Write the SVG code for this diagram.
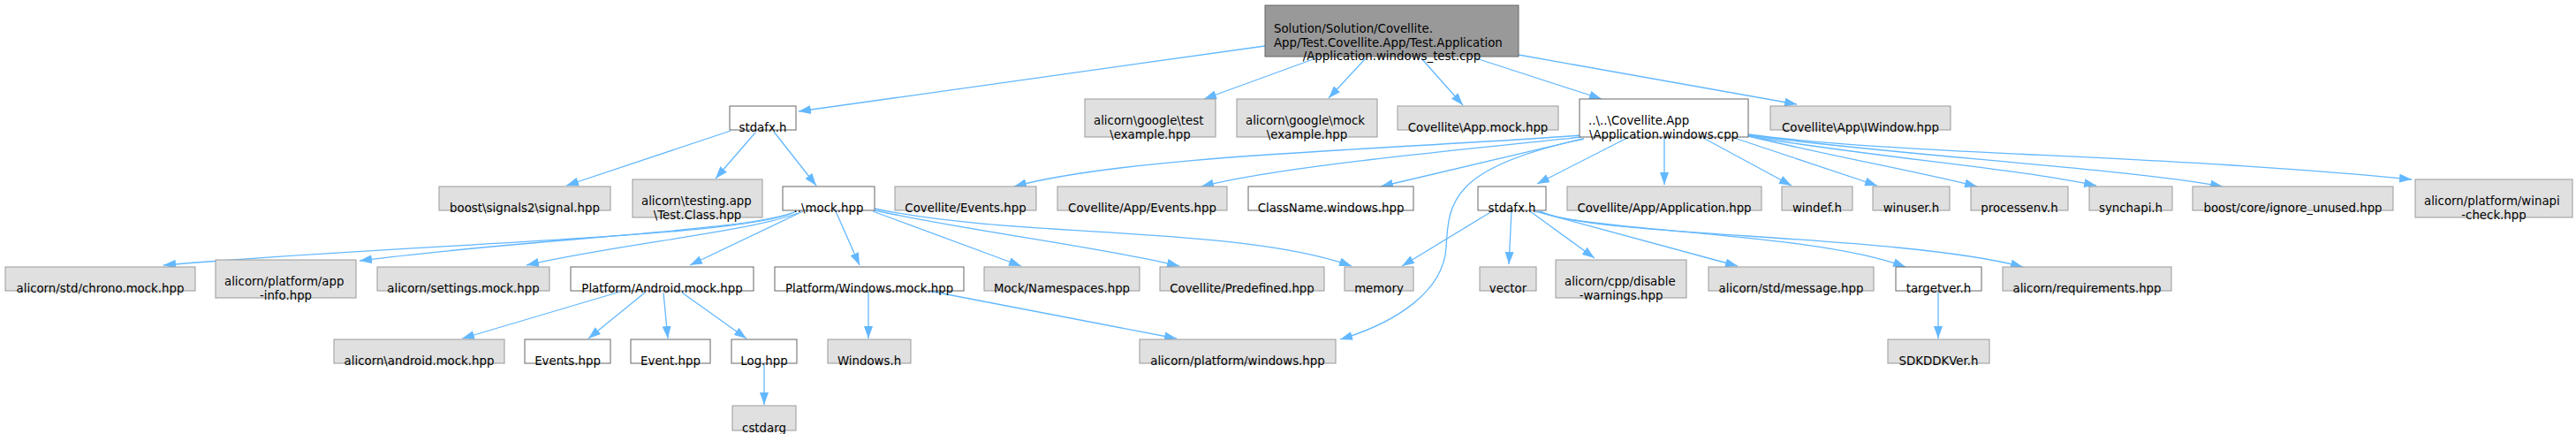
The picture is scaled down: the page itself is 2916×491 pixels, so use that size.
<svg xmlns="http://www.w3.org/2000/svg" width="2916" height="491" viewBox="0 0 2916 491">
<style>
.n rect{stroke-width:1}
.g rect{fill:#e0e0e0;stroke:#999999}
.w rect{fill:#ffffff;stroke:#666666}
.r rect{fill:#999999;stroke:#666666}
text{font-family:"DejaVu Sans","Liberation Sans",sans-serif;font-size:13.33px;fill:#000000}
.m{text-anchor:middle}
.s{text-anchor:start}
#edges path{fill:none;stroke:#63b8ff;stroke-width:1.3;marker-end:url(#ah)}
</style>
<defs>
<marker id="ah" markerUnits="userSpaceOnUse" markerWidth="14" markerHeight="10" viewBox="0 0 14 10" refX="14" refY="5" orient="auto">
<path d="M0,0 L14,5 L0,10 z" fill="#63b8ff" stroke="none"/>
</marker>
</defs>
<rect width="2916" height="491" fill="#ffffff"/>
<g id="edges">
<path d="M1432,52 L904,126"/>
<path d="M1492,65 L1363,112"/>
<path d="M1546,66 L1504,111"/>
<path d="M1609,66 L1656,119"/>
<path d="M1671,66 L1813,112"/>
<path d="M1719,62 L2034,118"/>
<path d="M827,148 L641,210"/>
<path d="M855,150 L810,202"/>
<path d="M876,149 L924,210"/>
<path d="M901,239 C850,268 480,275 185,300"/>
<path d="M899,240 C840,262 620,268 407,295"/>
<path d="M903,241 C850,262 700,276 596,300"/>
<path d="M909,239 L781,300"/>
<path d="M946,239 L973,300"/>
<path d="M988,239 L1156,301"/>
<path d="M990,238 C1100,262 1250,280 1335,301"/>
<path d="M990,236 C1150,270 1400,255 1530,301"/>
<path d="M702,330 L523,383"/>
<path d="M730,331 L666,383"/>
<path d="M751,331 L756,383"/>
<path d="M772,331 L845,383"/>
<path d="M983,330 L983,383"/>
<path d="M1051,329 L1332,383"/>
<path d="M865,412 L865,458"/>
<path d="M1790,153 C1600,168 1280,175 1148,211"/>
<path d="M1790,155 C1650,170 1450,188 1360,211"/>
<path d="M1792,157 L1563,211"/>
<path d="M1842,156 L1740,208"/>
<path d="M1884,156 L1884,209"/>
<path d="M1793,157 C1640,190 1640,230 1637,280 C1634,330 1580,365 1517,384"/>
<path d="M1928,156 L2028,210"/>
<path d="M1963,156 L2125,210"/>
<path d="M1979,154 C2080,178 2180,196 2238,211"/>
<path d="M1979,154 C2120,178 2280,190 2373,210"/>
<path d="M1979,153 C2150,176 2400,190 2516,211"/>
<path d="M1979,152 C2150,175 2450,175 2730,203"/>
<path d="M1689,239 L1587,301"/>
<path d="M1711,239 L1708,299"/>
<path d="M1732,239 L1805,292"/>
<path d="M1738,239 L1967,301"/>
<path d="M1742,239 C1790,262 2050,262 2157,302"/>
<path d="M1744,239 C1800,268 2150,265 2290,302"/>
<path d="M2194,330 L2194,383"/>
</g>
<g id="root" class="n r"><rect x="1432" y="6" width="287" height="58"/><text class="s" x="1442" y="37">Solution/Solution/Covellite.</text><text class="s" x="1442" y="52.5">App/Test.Covellite.App/Test.Application</text><text class="m" x="1575.5" y="68">/Application.windows_test.cpp</text></g>
<g id="stdafxA" class="n w"><rect x="826" y="120" width="75" height="27"/><text class="m" x="863.5" y="149">stdafx.h</text></g>
<g id="googletest" class="n g"><rect x="1228" y="112" width="148" height="43"/><text class="s" x="1238" y="141">alicorn\google\test</text><text class="m" x="1302" y="157">\example.hpp</text></g>
<g id="googlemock" class="n g"><rect x="1400" y="112" width="159" height="43"/><text class="s" x="1410" y="141">alicorn\google\mock</text><text class="m" x="1479.5" y="157">\example.hpp</text></g>
<g id="appmock" class="n g"><rect x="1582" y="120" width="182" height="27"/><text class="m" x="1673" y="149">Covellite\App.mock.hpp</text></g>
<g id="appwin" class="n w"><rect x="1788" y="112" width="191" height="43"/><text class="s" x="1798" y="141">..\..\Covellite.App</text><text class="m" x="1883.5" y="157">\Application.windows.cpp</text></g>
<g id="iwindow" class="n g"><rect x="2004" y="120" width="204" height="27"/><text class="m" x="2106" y="149">Covellite\App\IWindow.hpp</text></g>
<g id="signal" class="n g"><rect x="497" y="211" width="194" height="27"/><text class="m" x="594" y="240">boost\signals2\signal.hpp</text></g>
<g id="testing" class="n g"><rect x="716" y="203" width="147" height="43"/><text class="s" x="726" y="232">alicorn\testing.app</text><text class="m" x="789.5" y="248">\Test.Class.hpp</text></g>
<g id="mock" class="n w"><rect x="886" y="211" width="104" height="27"/><text class="m" x="938" y="240">..\mock.hpp</text></g>
<g id="cevents" class="n g"><rect x="1013" y="211" width="160" height="27"/><text class="m" x="1093" y="240">Covellite/Events.hpp</text></g>
<g id="cappevents" class="n g"><rect x="1197" y="211" width="192" height="27"/><text class="m" x="1293" y="240">Covellite/App/Events.hpp</text></g>
<g id="classname" class="n w"><rect x="1413" y="211" width="187" height="27"/><text class="m" x="1506.5" y="240">ClassName.windows.hpp</text></g>
<g id="stdafxB" class="n w"><rect x="1673" y="211" width="77" height="27"/><text class="m" x="1711.5" y="240">stdafx.h</text></g>
<g id="application" class="n g"><rect x="1774" y="211" width="220" height="27"/><text class="m" x="1884" y="240">Covellite/App/Application.hpp</text></g>
<g id="windef" class="n g"><rect x="2017" y="211" width="80" height="27"/><text class="m" x="2057" y="240">windef.h</text></g>
<g id="winuser" class="n g"><rect x="2120" y="211" width="87" height="27"/><text class="m" x="2163.5" y="240">winuser.h</text></g>
<g id="processenv" class="n g"><rect x="2231" y="211" width="110" height="27"/><text class="m" x="2286" y="240">processenv.h</text></g>
<g id="synchapi" class="n g"><rect x="2365" y="211" width="94" height="27"/><text class="m" x="2412" y="240">synchapi.h</text></g>
<g id="ignoreunused" class="n g"><rect x="2482" y="211" width="227" height="27"/><text class="m" x="2595.5" y="240">boost/core/ignore_unused.hpp</text></g>
<g id="winapicheck" class="n g"><rect x="2734" y="203" width="178" height="43"/><text class="s" x="2744" y="232">alicorn/platform/winapi</text><text class="m" x="2823" y="248">-check.hpp</text></g>
<g id="chrono" class="n g"><rect x="6" y="302" width="215" height="27"/><text class="m" x="113.5" y="331">alicorn/std/chrono.mock.hpp</text></g>
<g id="appinfo" class="n g"><rect x="244" y="294" width="159" height="43"/><text class="s" x="254" y="323">alicorn/platform/app</text><text class="m" x="323.5" y="339">-info.hpp</text></g>
<g id="settings" class="n g"><rect x="427" y="302" width="195" height="27"/><text class="m" x="524.5" y="331">alicorn/settings.mock.hpp</text></g>
<g id="android" class="n w"><rect x="646" y="302" width="207" height="27"/><text class="m" x="749.5" y="331">Platform/Android.mock.hpp</text></g>
<g id="windowsmock" class="n w"><rect x="877" y="302" width="214" height="27"/><text class="m" x="984" y="331">Platform/Windows.mock.hpp</text></g>
<g id="namespaces" class="n g"><rect x="1114" y="302" width="176" height="27"/><text class="m" x="1202" y="331">Mock/Namespaces.hpp</text></g>
<g id="predefined" class="n g"><rect x="1313" y="302" width="186" height="27"/><text class="m" x="1406" y="331">Covellite/Predefined.hpp</text></g>
<g id="memory" class="n g"><rect x="1522" y="302" width="78" height="27"/><text class="m" x="1561" y="331">memory</text></g>
<g id="vector" class="n g"><rect x="1675" y="302" width="64" height="27"/><text class="m" x="1707" y="331">vector</text></g>
<g id="disablewarnings" class="n g"><rect x="1761" y="294" width="148" height="43"/><text class="s" x="1771" y="323">alicorn/cpp/disable</text><text class="m" x="1835" y="339">-warnings.hpp</text></g>
<g id="message" class="n g"><rect x="1934" y="302" width="187" height="27"/><text class="m" x="2027.5" y="331">alicorn/std/message.hpp</text></g>
<g id="targetver" class="n w"><rect x="2146" y="302" width="97" height="27"/><text class="m" x="2194.5" y="331">targetver.h</text></g>
<g id="requirements" class="n g"><rect x="2267" y="302" width="191" height="27"/><text class="m" x="2362.5" y="331">alicorn/requirements.hpp</text></g>
<g id="androidmock" class="n g"><rect x="378" y="384" width="193" height="27"/><text class="m" x="474.5" y="413">alicorn\android.mock.hpp</text></g>
<g id="eventshpp" class="n w"><rect x="594" y="384" width="97" height="27"/><text class="m" x="642.5" y="413">Events.hpp</text></g>
<g id="eventhpp" class="n w"><rect x="714" y="384" width="90" height="27"/><text class="m" x="759" y="413">Event.hpp</text></g>
<g id="loghpp" class="n w"><rect x="828" y="384" width="74" height="27"/><text class="m" x="865" y="413">Log.hpp</text></g>
<g id="windowsh" class="n g"><rect x="937" y="384" width="94" height="27"/><text class="m" x="984" y="413">Windows.h</text></g>
<g id="platformwindows" class="n g"><rect x="1290" y="384" width="222" height="27"/><text class="m" x="1401" y="413">alicorn/platform/windows.hpp</text></g>
<g id="sdkddkver" class="n g"><rect x="2137" y="384" width="115" height="27"/><text class="m" x="2194.5" y="413">SDKDDKVer.h</text></g>
<g id="cstdarg" class="n g"><rect x="829" y="459" width="72" height="28"/><text class="m" x="865" y="489">cstdarg</text></g>
</svg>
